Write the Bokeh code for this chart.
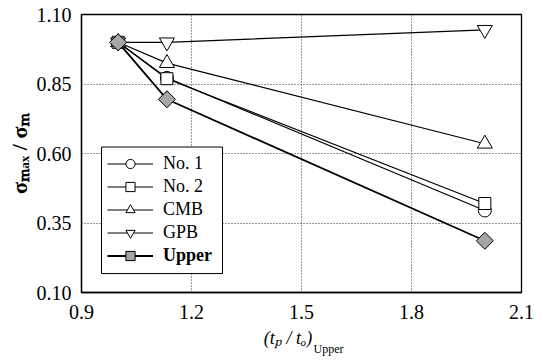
import math
from bokeh.plotting import figure
from bokeh.models import (Range1d, FixedTicker, PrintfTickFormatter, Legend,
                          LegendItem, Label, BoxAnnotation)
from bokeh.embed import file_html
from bokeh.resources import INLINE

# ---- data ----
x_ratio = [1.0, 1.133, 2.0]
no1 = [1.0, 0.872, 0.395]
no2 = [1.0, 0.869, 0.42]
cmb = [1.0, 0.925, 0.635]
gpb = [1.0, 1.0, 1.045]
upper = [1.0, 0.795, 0.286]
series_names = ["No. 1", "No. 2", "CMB", "GPB", "Upper"]
x_ticks = [0.9, 1.2, 1.5, 1.8, 2.1]
y_ticks = [0.10, 0.35, 0.60, 0.85, 1.10]
x_title = "(tₚ / tₒ)"
x_title_sub = "Upper"
y_title = "σₘₐₓ / σₘ"

SERIF = "serif"
X0, X1, Y0, Y1 = 0.9, 2.1, 0.10, 1.10
FW, FH = 440, 279

p = figure(width=543, height=362, output_backend="svg", toolbar_location=None,
           x_range=Range1d(X0, X1), y_range=Range1d(Y0, Y1),
           min_border_left=81, min_border_right=22, min_border_top=13,
           min_border_bottom=70)
p.background_fill_color = "white"
p.border_fill_color = "white"
p.outline_line_color = "black"
p.outline_line_width = 1.3

for ax in (p.xaxis[0], p.yaxis[0]):
    ax.axis_line_color = "black"
    ax.axis_line_width = 1.3
    ax.major_tick_out = 0
    ax.major_tick_in = 0
    ax.minor_tick_out = 0
    ax.minor_tick_in = 0
    ax.major_label_text_font = SERIF
    ax.major_label_text_font_size = "20px"
    ax.major_label_text_color = "black"
    ax.axis_label_text_color = "black"
    ax.axis_label_text_font = SERIF
p.xaxis.ticker = FixedTicker(ticks=x_ticks)
p.yaxis.ticker = FixedTicker(ticks=y_ticks)
p.xaxis.formatter = PrintfTickFormatter(format="%.1f")
p.yaxis.formatter = PrintfTickFormatter(format="%.2f")
p.xaxis.major_label_standoff = 12
p.yaxis.major_label_standoff = 10

# axis titles
p.xaxis.axis_label = x_title + "      "
p.xaxis.axis_label_text_font_size = "18px"
p.xaxis.axis_label_text_font_style = "italic"
p.xaxis.axis_label_standoff = 6
p.yaxis.axis_label = y_title
p.yaxis.axis_label_text_font_size = "22px"
p.yaxis.axis_label_text_font_style = "bold"
p.yaxis.axis_label_standoff = 2

for g in (p.xgrid[0], p.ygrid[0]):
    g.grid_line_color = "#333333"
    g.grid_line_dash = "1 2"
    g.grid_line_width = 1

series = [no1, no2, cmb, gpb, upper]
markers = ["circle", "square", "triangle", "inverted_triangle", "square"]
sizes = [13, 12, 15, 15, 12]
angles = [0, 0, 0, 0, math.pi / 4]
fills = ["white", "white", "white", "white", "#a6a6a6"]
widths = [1.2, 1.2, 1.2, 1.2, 1.8]

items = []
for i in range(5):
    lr = p.line(x_ratio, series[i], line_color="black", line_width=widths[i])
    sr = p.scatter(x_ratio, series[i], marker=markers[i], size=sizes[i],
                   angle=angles[i], fill_color=fills[i], line_color="black",
                   line_width=1.0)
    items.append(LegendItem(label=series_names[i], renderers=[lr, sr]))

# legend box (frame-relative pixel offsets converted to data units)
bl, bb, bw, bh = 20, 19, 121, 127
p.add_layout(BoxAnnotation(left=X0 + bl / FW * (X1 - X0),
                           right=X0 + (bl + bw) / FW * (X1 - X0),
                           bottom=Y0 + bb / FH * (Y1 - Y0),
                           top=Y0 + (bb + bh) / FH * (Y1 - Y0),
                           fill_color="white", fill_alpha=1.0,
                           line_color="black", line_width=1, line_alpha=1.0))

common = dict(orientation="vertical", padding=6, spacing=0, margin=0,
              glyph_width=46, glyph_height=23, label_height=23, label_width=53,
              label_standoff=10, label_text_font=SERIF,
              label_text_font_size="18px", label_text_color="black",
              border_line_alpha=0.0, background_fill_alpha=0.0)
leg1 = Legend(items=items[:4], location=(bl, bb + 23), **common)
leg2 = Legend(items=items[4:], location=(bl, bb), label_text_font_style="bold",
              **common)
p.add_layout(leg1, "center")
p.add_layout(leg2, "center")

# subscript "Upper" of the x title (side-panel label, not clipped)
p.add_layout(Label(x=232, y=-334, x_units="screen", y_units="screen",
                   text=x_title_sub, text_font=SERIF, text_font_size="12px",
                   text_baseline="alphabetic", text_align="left",
                   text_color="black"), "above")

open("out.html", "w").write(file_html(p, INLINE))
